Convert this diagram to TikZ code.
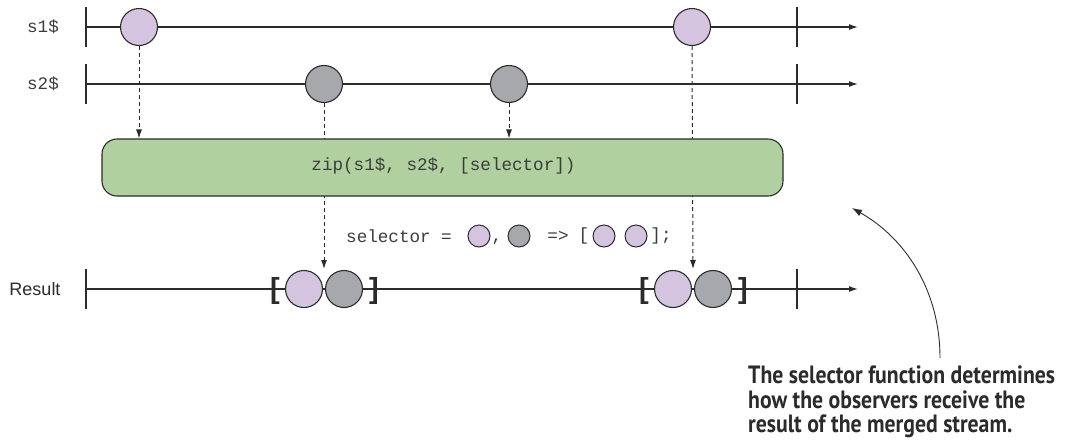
\documentclass[tikz,border=0pt]{standalone}
\usepackage{fontspec}
\setmainfont{Liberation Sans}
\newfontfamily\codefont{Liberation Mono}
\newfontfamily\notefont[FakeStretch=0.87]{PT Sans}
\usetikzlibrary{arrows.meta}
\definecolor{pur}{HTML}{D4C4E0}
\definecolor{gry}{HTML}{A6A8AB}
\definecolor{grn}{HTML}{B0D09F}
\definecolor{ink}{HTML}{2B2B2B}
\definecolor{codeink}{HTML}{3C3C3C}
\tikzset{
  tl/.style={draw=ink, line width=1.2pt, -{Latex[length=9pt,width=6pt]}},
  tick/.style={draw=ink, line width=1.2pt},
  marble/.style={circle, draw=ink, line width=1.1pt, inner sep=0pt, minimum size=37pt},
  smallmarble/.style={circle, draw=ink, line width=1pt, inner sep=0pt, minimum size=22pt},
  dsh/.style={draw=ink, line width=1pt, dash pattern=on 4pt off 3pt, -{Latex[length=9pt,width=6pt]}},
  codelbl/.style={font=\codefont\fontsize{17.6}{20}\selectfont, text=codeink, inner sep=0pt},
  brk/.style={font=\bfseries\fontsize{29}{30}\selectfont, text=ink, inner sep=0pt},
  opbox/.style={draw=ink, line width=1.1pt, fill=grn, rounded corners=15pt, minimum width=681pt, minimum height=57pt, inner sep=0pt},
  note/.style={font=\notefont\bfseries\fontsize{25}{24.5}\selectfont, text=ink, align=left, inner sep=0pt, anchor=north west},
}
\begin{document}
\begin{tikzpicture}[x=1pt,y=-1pt]
\useasboundingbox (0,0) rectangle (1067,440);
% labels
\node[codelbl] (l1) at (43,27) {s1\$};
\node[codelbl] (l2) at (43,84) {s2\$};
\node[font=\fontsize{18}{20}\selectfont, text=ink, inner sep=0pt] (lr) at (35,289) {Result};
% timelines
\coordinate (s1a) at (86,27); \coordinate (s1b) at (858,27);
\coordinate (s2a) at (86,84); \coordinate (s2b) at (858,84);
\coordinate (ra) at (86,289); \coordinate (rb) at (858,289);
\draw[tl] (s1a) -- (s1b);
\draw[tl] (s2a) -- (s2b);
\draw[tl] (ra) -- (rb);
\draw[tick] (86,7) -- (86,47);
\draw[tick] (797,7) -- (797,47);
\draw[tick] (86,64) -- (86,104);
\draw[tick] (797,64) -- (797,104);
\draw[tick] (86,269) -- (86,309);
\draw[tick] (797,269) -- (797,309);
% source marbles
\node[marble, fill=pur] (a1) at (139,27) {};
\node[marble, fill=pur] (a2) at (692,27) {};
\node[marble, fill=gry] (b1) at (324,84) {};
\node[marble, fill=gry] (b2) at (509,84) {};
% result marbles
\node[brk] (o1) at (275,291) {[};
\node[marble, fill=pur] (r1) at (304,289) {};
\node[marble, fill=gry] (r2) at (344,289) {};
\node[brk] (c1) at (374,291) {]};
\node[brk] (o2) at (644,291) {[};
\node[marble, fill=pur] (r3) at (673,289) {};
\node[marble, fill=gry] (r4) at (713,289) {};
\node[brk] (c2) at (743,291) {]};
\coordinate (t1) at (324,269);
\coordinate (t2) at (693,269);
% pass-through dashed arrows (behind box)
\draw[dsh] (b1.south) -- (t1);
\draw[dsh] (a2.south) -- (t2);
% operator box
\node[opbox] (box) at (442.5,167.5) {};
\node[codelbl] (zt) at (443.5,166) {zip(s1\$, s2\$, [selector])};
\draw[dsh] (a1.south) -- (a1.south |- box.north);
\draw[dsh] (b2.south) -- (b2.south |- box.north);
% selector line
\node[codelbl, anchor=west] (sel) at (346,236) {selector =};
\node[smallmarble, fill=pur] (m1) at (479,236) {};
\node[codelbl, anchor=base] (cm) at (497,241) {,};
\node[smallmarble, fill=gry] (m2) at (519,236) {};
\node[codelbl] (ar) at (558,236) {=>};
\node[codelbl] (ob) at (584,236) {[};
\node[smallmarble, fill=pur] (m3) at (604,236) {};
\node[smallmarble, fill=pur] (m4) at (636,236) {};
\node[codelbl] (cb) at (661,236) {];};
% note
\node[note] (nt) at (748,366) {The selector function determines\\how the observers receive the\\result of the merged stream.};
\coordinate (cs) at (940,358);
\coordinate (ce) at (852,208);
\draw[draw=ink, line width=0.9pt, -{Latex[length=10pt,width=7pt]}] (cs) .. controls (940,290) and (905,238) .. (ce);
\end{tikzpicture}
\end{document}
